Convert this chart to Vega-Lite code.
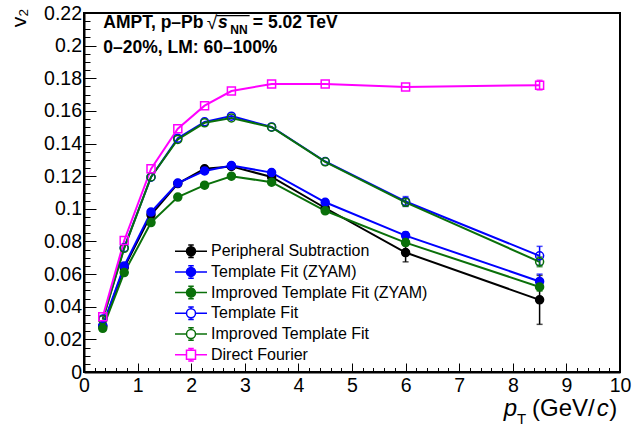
{
  "$schema": "https://vega.github.io/schema/vega-lite/v6.json",
  "width": 536,
  "height": 359,
  "autosize": {"type": "none"},
  "padding": {"left": 84, "top": 13, "right": 21, "bottom": 58},
  "background": "white",
  "config": {
    "view": {"stroke": "black", "strokeWidth": 2},
    "axis": {"domainColor": "black", "domainWidth": 2, "tickColor": "black", "labelColor": "black", "labelFont": "Liberation Sans", "grid": false},
    "legend": {"labelFont": "Liberation Sans", "labelFontSize": 16, "labelColor": "black", "labelLimit": 400, "symbolSize": 100, "symbolStrokeWidth": 1.5, "labelOffset": 12, "rowPadding": 0.7, "padding": 0},
    "text": {"font": "Liberation Sans", "color": "black"}
  },
  "resolve": {"axis": {"x": "independent", "y": "independent"}},
  "data": {"values": [
    {"s": "Peripheral Subtraction", "pt": 0.35, "v2": 0.028},
    {"s": "Peripheral Subtraction", "pt": 0.75, "v2": 0.064},
    {"s": "Peripheral Subtraction", "pt": 1.25, "v2": 0.0963},
    {"s": "Peripheral Subtraction", "pt": 1.75, "v2": 0.1155},
    {"s": "Peripheral Subtraction", "pt": 2.25, "v2": 0.1245},
    {"s": "Peripheral Subtraction", "pt": 2.75, "v2": 0.126},
    {"s": "Peripheral Subtraction", "pt": 3.5, "v2": 0.1195},
    {"s": "Peripheral Subtraction", "pt": 4.5, "v2": 0.1005, "lo": 0.0985, "hi": 0.1025},
    {"s": "Peripheral Subtraction", "pt": 6, "v2": 0.0732, "lo": 0.0675, "hi": 0.0789},
    {"s": "Peripheral Subtraction", "pt": 8.5, "v2": 0.0442, "lo": 0.0292, "hi": 0.0592},
    {"s": "Template Fit (ZYAM)", "pt": 0.35, "v2": 0.0285},
    {"s": "Template Fit (ZYAM)", "pt": 0.75, "v2": 0.065},
    {"s": "Template Fit (ZYAM)", "pt": 1.25, "v2": 0.098},
    {"s": "Template Fit (ZYAM)", "pt": 1.75, "v2": 0.1158},
    {"s": "Template Fit (ZYAM)", "pt": 2.25, "v2": 0.1232},
    {"s": "Template Fit (ZYAM)", "pt": 2.75, "v2": 0.1265},
    {"s": "Template Fit (ZYAM)", "pt": 3.5, "v2": 0.1222},
    {"s": "Template Fit (ZYAM)", "pt": 4.5, "v2": 0.104},
    {"s": "Template Fit (ZYAM)", "pt": 6, "v2": 0.0836, "lo": 0.0814, "hi": 0.0858},
    {"s": "Template Fit (ZYAM)", "pt": 8.5, "v2": 0.0555, "lo": 0.051, "hi": 0.06},
    {"s": "Improved Template Fit (ZYAM)", "pt": 0.35, "v2": 0.0268},
    {"s": "Improved Template Fit (ZYAM)", "pt": 0.75, "v2": 0.0609},
    {"s": "Improved Template Fit (ZYAM)", "pt": 1.25, "v2": 0.0916},
    {"s": "Improved Template Fit (ZYAM)", "pt": 1.75, "v2": 0.1072},
    {"s": "Improved Template Fit (ZYAM)", "pt": 2.25, "v2": 0.1145},
    {"s": "Improved Template Fit (ZYAM)", "pt": 2.75, "v2": 0.12},
    {"s": "Improved Template Fit (ZYAM)", "pt": 3.5, "v2": 0.1163},
    {"s": "Improved Template Fit (ZYAM)", "pt": 4.5, "v2": 0.0988},
    {"s": "Improved Template Fit (ZYAM)", "pt": 6, "v2": 0.0793, "lo": 0.0776, "hi": 0.081},
    {"s": "Improved Template Fit (ZYAM)", "pt": 8.5, "v2": 0.0521, "lo": 0.0496, "hi": 0.0546},
    {"s": "Template Fit", "pt": 0.35, "v2": 0.0325},
    {"s": "Template Fit", "pt": 0.75, "v2": 0.0762},
    {"s": "Template Fit", "pt": 1.25, "v2": 0.1194},
    {"s": "Template Fit", "pt": 1.75, "v2": 0.1432},
    {"s": "Template Fit", "pt": 2.25, "v2": 0.1533},
    {"s": "Template Fit", "pt": 2.75, "v2": 0.1568},
    {"s": "Template Fit", "pt": 3.5, "v2": 0.1502},
    {"s": "Template Fit", "pt": 4.5, "v2": 0.129},
    {"s": "Template Fit", "pt": 6, "v2": 0.1045, "lo": 0.1015, "hi": 0.1075},
    {"s": "Template Fit", "pt": 8.5, "v2": 0.0712, "lo": 0.0654, "hi": 0.077},
    {"s": "Improved Template Fit", "pt": 0.35, "v2": 0.032},
    {"s": "Improved Template Fit", "pt": 0.75, "v2": 0.0758},
    {"s": "Improved Template Fit", "pt": 1.25, "v2": 0.1195},
    {"s": "Improved Template Fit", "pt": 1.75, "v2": 0.1425},
    {"s": "Improved Template Fit", "pt": 2.25, "v2": 0.1527},
    {"s": "Improved Template Fit", "pt": 2.75, "v2": 0.1557},
    {"s": "Improved Template Fit", "pt": 3.5, "v2": 0.15},
    {"s": "Improved Template Fit", "pt": 4.5, "v2": 0.1288},
    {"s": "Improved Template Fit", "pt": 6, "v2": 0.104, "lo": 0.1015, "hi": 0.1065},
    {"s": "Improved Template Fit", "pt": 8.5, "v2": 0.0675, "lo": 0.0645, "hi": 0.0705},
    {"s": "Direct Fourier", "pt": 0.35, "v2": 0.0339},
    {"s": "Direct Fourier", "pt": 0.75, "v2": 0.0806},
    {"s": "Direct Fourier", "pt": 1.25, "v2": 0.1245},
    {"s": "Direct Fourier", "pt": 1.75, "v2": 0.1491},
    {"s": "Direct Fourier", "pt": 2.25, "v2": 0.1632},
    {"s": "Direct Fourier", "pt": 2.75, "v2": 0.1722},
    {"s": "Direct Fourier", "pt": 3.5, "v2": 0.1765},
    {"s": "Direct Fourier", "pt": 4.5, "v2": 0.1765},
    {"s": "Direct Fourier", "pt": 6, "v2": 0.1747},
    {"s": "Direct Fourier", "pt": 8.5, "v2": 0.1758, "lo": 0.1728, "hi": 0.1788}
  ]},
  "layer": [
    {
      "mark": {"type": "line", "strokeWidth": 2},
      "encoding": {
        "x": {"field": "pt", "type": "quantitative",
          "scale": {"domain": [0, 10], "nice": false, "zero": false},
          "axis": {
            "orient": "bottom",
            "title": null,
            "values": [0,1,2,3,4,5,6,7,8,9,10],
            "tickSize": -9,
            "tickWidth": 1,
            "labelFontSize": 19.5,
            "labelPadding": 13,
            "labelFlush": false,
            "labelOverlap": false,
            "labelBound": false
          }},
        "y": {"field": "v2", "type": "quantitative",
          "scale": {"domain": [0, 0.22], "nice": false, "zero": false},
          "axis": {
            "orient": "left",
            "title": "v₂",
            "titleFont": "Liberation Sans",
            "titleFontSize": 21,
            "titleFontWeight": "normal",
            "titleColor": "black",
            "titleAngle": 270,
            "titleAlign": "right",
            "titleBaseline": "alphabetic",
            "titleX": -59,
            "titleY": -5,
            "values": [0,0.02,0.04,0.06,0.08,0.1,0.12,0.14,0.16,0.18,0.2,0.22],
            "labelExpr": "toString(datum.value)",
            "tickSize": -12,
            "tickWidth": 1,
            "labelFontSize": 19.5,
            "labelPadding": 14.5,
            "labelFlush": false,
            "labelOverlap": false,
            "labelBound": false
          }},
        "color": {"field": "s", "type": "nominal", "legend": null,
          "scale": {"domain": ["Direct Fourier", "Improved Template Fit", "Template Fit", "Improved Template Fit (ZYAM)", "Template Fit (ZYAM)", "Peripheral Subtraction"],
                    "range": ["#ff00ff", "#0a700a", "#0000ff", "#0a700a", "#0000ff", "#000000"]}}
      }
    },
    {
      "transform": [{"filter": "isValid(datum.lo)"}],
      "mark": {"type": "errorbar", "thickness": 1.5, "ticks": {"size": 6, "thickness": 1.5}},
      "encoding": {
        "x": {"field": "pt", "type": "quantitative", "axis": null},
        "y": {"field": "lo", "type": "quantitative", "axis": null},
        "y2": {"field": "hi"},
        "color": {"field": "s", "type": "nominal", "legend": null}
      }
    },
    {
      "transform": [{"filter": "datum.s !== 'Direct Fourier'"}],
      "mark": {"type": "point", "shape": "circle", "filled": true, "opacity": 1, "size": 64, "strokeWidth": 1.5},
      "encoding": {
        "x": {"field": "pt", "type": "quantitative",
          "axis": {"orient": "bottom", "title": null, "domain": false, "labels": false, "tickSize": -4.5, "tickWidth": 1,
            "values": [0.2,0.4,0.6,0.8,1.2,1.4,1.6,1.8,2.2,2.4,2.6,2.8,3.2,3.4,3.6,3.8,4.2,4.4,4.6,4.8,5.2,5.4,5.6,5.8,6.2,6.4,6.6,6.8,7.2,7.4,7.6,7.8,8.2,8.4,8.6,8.8,9.2,9.4,9.6,9.8]}},
        "y": {"field": "v2", "type": "quantitative",
          "axis": {"orient": "left", "title": null, "domain": false, "labels": false, "tickSize": -6, "tickWidth": 1,
            "values": [0.005,0.01,0.015,0.025,0.03,0.035,0.045,0.05,0.055,0.065,0.07,0.075,0.085,0.09,0.095,0.105,0.11,0.115,0.125,0.13,0.135,0.145,0.15,0.155,0.165,0.17,0.175,0.185,0.19,0.195,0.205,0.21,0.215]}},
        "stroke": {"field": "s", "type": "nominal"},
        "fill": {"field": "s", "type": "nominal"}
      }
    },
    {
      "transform": [{"filter": "datum.s === 'Direct Fourier'"}],
      "mark": {"type": "point", "shape": "square", "filled": true, "opacity": 1, "size": 64, "strokeWidth": 1.5},
      "encoding": {
        "x": {"field": "pt", "type": "quantitative", "axis": null},
        "y": {"field": "v2", "type": "quantitative", "axis": null},
        "stroke": {"field": "s", "type": "nominal"},
        "fill": {"field": "s", "type": "nominal"}
      }
    },
    {
      "transform": [{"filter": "false"}],
      "mark": {"type": "point", "filled": true, "opacity": 1, "strokeWidth": 1.5},
      "encoding": {
        "x": {"field": "pt", "type": "quantitative", "axis": null},
        "y": {"field": "v2", "type": "quantitative", "axis": null},
        "stroke": {"field": "s", "type": "nominal",
          "scale": {"domain": ["Peripheral Subtraction", "Template Fit (ZYAM)", "Improved Template Fit (ZYAM)", "Template Fit", "Improved Template Fit", "Direct Fourier"],
                    "range": ["#000000", "#0000ff", "#0a700a", "#0000ff", "#0a700a", "#ff00ff"]},
          "legend": {"title": null, "orient": "none", "legendX": 99, "legendY": 230.2}},
        "fill": {"field": "s", "type": "nominal",
          "scale": {"domain": ["Peripheral Subtraction", "Template Fit (ZYAM)", "Improved Template Fit (ZYAM)", "Template Fit", "Improved Template Fit", "Direct Fourier"],
                    "range": ["#000000", "#0000ff", "#0a700a", "transparent", "transparent", "transparent"]}},
        "shape": {"field": "s", "type": "nominal",
          "scale": {"domain": ["Peripheral Subtraction", "Template Fit (ZYAM)", "Improved Template Fit (ZYAM)", "Template Fit", "Improved Template Fit", "Direct Fourier"],
                    "range": [
                      "M-3.2,0H-0.9M0.9,0H3.2M0,-0.9V-1.25M0,0.9V1.25M-0.55,-1.25H0.55M-0.55,1.25H0.55M-0.9,0A0.9,0.9 0 1,0 0.9,0A0.9,0.9 0 1,0 -0.9,0Z",
                      "M-3.2,0H-0.9M0.9,0H3.2M0,-0.9V-1.25M0,0.9V1.25M-0.55,-1.25H0.55M-0.55,1.25H0.55M-0.9,0A0.9,0.9 0 1,0 0.9,0A0.9,0.9 0 1,0 -0.9,0Z",
                      "M-3.2,0H-0.9M0.9,0H3.2M0,-0.9V-1.25M0,0.9V1.25M-0.55,-1.25H0.55M-0.55,1.25H0.55M-0.9,0A0.9,0.9 0 1,0 0.9,0A0.9,0.9 0 1,0 -0.9,0Z",
                      "M-3.2,0H-0.9M0.9,0H3.2M0,-0.9V-1.25M0,0.9V1.25M-0.55,-1.25H0.55M-0.55,1.25H0.55M-0.9,0A0.9,0.9 0 1,0 0.9,0A0.9,0.9 0 1,0 -0.9,0Z",
                      "M-3.2,0H-0.9M0.9,0H3.2M0,-0.9V-1.25M0,0.9V1.25M-0.55,-1.25H0.55M-0.55,1.25H0.55M-0.9,0A0.9,0.9 0 1,0 0.9,0A0.9,0.9 0 1,0 -0.9,0Z",
                      "M-3.2,0H-0.9M0.9,0H3.2M0,-0.9V-1.25M0,0.9V1.25M-0.55,-1.25H0.55M-0.55,1.25H0.55M-0.9,-0.9H0.9V0.9H-0.9Z"
                    ]}}
      }
    },
    {
      "data": {"values": [{}]},
      "mark": {"type": "text", "text": "AMPT, p–Pb", "fontSize": 17.5, "fontWeight": "bold", "align": "left", "baseline": "alphabetic"},
      "encoding": {"x": {"datum": 0.36, "axis": null}, "y": {"datum": 0.2109, "axis": null}}
    },
    {
      "data": {"values": [{}]},
      "mark": {"type": "text", "text": "√", "fontSize": 19, "align": "left", "baseline": "alphabetic"},
      "encoding": {"x": {"datum": 2.29, "axis": null}, "y": {"datum": 0.2105, "axis": null}}
    },
    {
      "data": {"values": [{}]},
      "mark": {"type": "text", "text": "s", "fontSize": 17.5, "fontWeight": "bold", "fontStyle": "italic", "align": "left", "baseline": "alphabetic"},
      "encoding": {"x": {"datum": 2.5, "axis": null}, "y": {"datum": 0.2109, "axis": null}}
    },
    {
      "data": {"values": [{}]},
      "mark": {"type": "text", "text": "NN", "fontSize": 12, "fontWeight": "bold", "align": "left", "baseline": "alphabetic"},
      "encoding": {"x": {"datum": 2.73, "axis": null}, "y": {"datum": 0.2074, "axis": null}}
    },
    {
      "data": {"values": [{}]},
      "mark": {"type": "rule", "strokeWidth": 1.2, "color": "black"},
      "encoding": {"x": {"datum": 2.47, "axis": null}, "x2": {"datum": 3.09}, "y": {"datum": 0.2184, "axis": null}}
    },
    {
      "data": {"values": [{}]},
      "mark": {"type": "text", "text": "= 5.02 TeV", "fontSize": 17.5, "fontWeight": "bold", "align": "left", "baseline": "alphabetic"},
      "encoding": {"x": {"datum": 3.15, "axis": null}, "y": {"datum": 0.2109, "axis": null}}
    },
    {
      "data": {"values": [{}]},
      "mark": {"type": "text", "text": "0–20%, LM: 60–100%", "fontSize": 17.5, "fontWeight": "bold", "align": "left", "baseline": "alphabetic"},
      "encoding": {"x": {"datum": 0.36, "axis": null}, "y": {"datum": 0.1955, "axis": null}}
    },
    {
      "data": {"values": [{}]},
      "mark": {"type": "text", "text": "p", "fontSize": 24, "fontStyle": "italic", "align": "left", "baseline": "alphabetic"},
      "encoding": {"x": {"datum": 7.83, "axis": null}, "y": {"datum": -0.027, "axis": null}}
    },
    {
      "data": {"values": [{}]},
      "mark": {"type": "text", "text": "T", "fontSize": 15, "align": "left", "baseline": "alphabetic"},
      "encoding": {"x": {"datum": 8.08, "axis": null}, "y": {"datum": -0.032, "axis": null}}
    },
    {
      "data": {"values": [{}]},
      "mark": {"type": "text", "text": "(GeV/", "fontSize": 24, "align": "left", "baseline": "alphabetic"},
      "encoding": {"x": {"datum": 8.36, "axis": null}, "y": {"datum": -0.027, "axis": null}}
    },
    {
      "data": {"values": [{}]},
      "mark": {"type": "text", "text": "c", "fontSize": 24, "fontStyle": "italic", "align": "right", "baseline": "alphabetic"},
      "encoding": {"x": {"datum": 9.79, "axis": null}, "y": {"datum": -0.027, "axis": null}}
    },
    {
      "data": {"values": [{}]},
      "mark": {"type": "text", "text": ")", "fontSize": 24, "align": "right", "baseline": "alphabetic"},
      "encoding": {"x": {"datum": 9.95, "axis": null}, "y": {"datum": -0.027, "axis": null}}
    }
  ]
}
